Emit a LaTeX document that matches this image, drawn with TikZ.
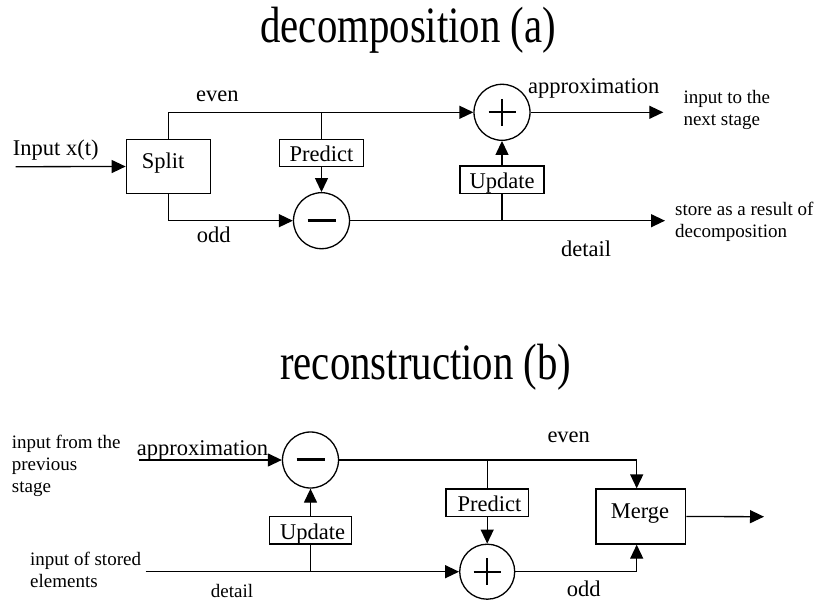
\documentclass[tikz,border=0pt]{standalone}
\usepackage{fontspec}
\setmainfont{Liberation Serif}
\newfontfamily\titlefont[FakeStretch=0.8]{Liberation Serif}
\usetikzlibrary{arrows.meta,calc}
\tikzset{
  ln/.style={line width=1.3pt},
  arr/.style={ln,-{Triangle[length=14pt,width=13pt]}},
  blk/.style={draw,line width=1.3pt,rectangle,inner sep=0pt},
  opc/.style={draw,line width=1.3pt,circle,minimum size=56pt,inner sep=0pt},
  lbl/.style={inner sep=0pt,font=\fontsize{22.5pt}{25pt}\selectfont},
  sml/.style={inner sep=0pt,font=\fontsize{19pt}{22pt}\selectfont,align=left},
  ttl/.style={inner sep=0pt,font=\titlefont\fontsize{51pt}{55pt}\selectfont},
}
\begin{document}
\begin{tikzpicture}[x=1pt,y=-1pt]
\useasboundingbox (0,0) rectangle (815,602);
% ---------- titles
\node[ttl,anchor=base] (t1) at (408.3,42.3) {decomposition (a)};
\node[ttl,anchor=base] (t2) at (425.8,379.3) {reconstruction (b)};
% ---------- decomposition
\coordinate (inA) at (15.7,166.7);
\node[blk,minimum width=84pt,minimum height=54pt] (split) at (168.3,166.5) {};
\node[lbl,anchor=base west] (splitt) at (141.7,168.3) {Split};
\node[opc] (plusA) at (502,112.3) {};
\node[opc] (minusA) at (321.5,220.7) {};
\node[blk,minimum width=83.4pt,minimum height=27.4pt] (predA) at (321.5,153) {};
\node[lbl,anchor=base] (predAt) at (321.5,161.7) {Predict};
\node[blk,minimum width=84pt,minimum height=27.3pt] (updA) at (502,179.7) {};
\node[lbl,anchor=base] (updAt) at (502,188.3) {Update};
\coordinate (outA) at (663.3,112.3);
\coordinate (outD) at (665,220.7);
% signs
\draw[line width=2pt] ($(plusA)+(-13.5,0)$) -- ($(plusA)+(13.5,0)$);
\draw[line width=2pt] ($(plusA)+(0,-13.5)$) -- ($(plusA)+(0,13.5)$);
\draw[line width=3pt] ($(minusA)+(-14,-0.5)$) -- ($(minusA)+(14,-0.5)$);
% connectors
\draw[arr] (inA) -- (split.west);
\draw[arr] (split.north) |- (plusA.west);
\draw[arr] (split.south) |- (minusA.west);
\draw[ln] (predA.north) -- (predA.north |- plusA.west);
\draw[arr] (predA.south) -- (minusA.north);
\draw[arr] (minusA.east) -- (outD);
\draw[ln] (updA.south) -- (updA.south |- minusA.east);
\draw[arr] (updA.north) -- (plusA.south);
\draw[arr] (plusA.east) -- (outA);
% labels
\node[lbl,anchor=base west] (inAt) at (12.7,156) {Input x(t)};
\node[lbl,anchor=base west] (evenA) at (196,101.7) {even};
\node[lbl,anchor=base west] (oddA) at (196.7,242.7) {odd};
\node[lbl,anchor=base west] (apxA) at (528,93.3) {approximation};
\node[lbl,anchor=base west] (detA) at (561,256.7) {detail};
\node[sml,anchor=base west] (nextA) at (683.3,125.3) {input to the\\next stage};
\node[sml,anchor=base west] (storeA) at (675,237) {store as a result of\\decomposition};
% ---------- reconstruction
\coordinate (inB1) at (139.3,460);
\coordinate (inB2) at (145.7,571.7);
\coordinate (outB) at (764,516.7);
\node[opc] (minusB) at (310.5,460) {};
\node[opc,minimum size=55pt] (plusB) at (487.2,571.7) {};
\node[blk,minimum width=81.7pt,minimum height=27.3pt] (updB) at (310.5,530.35) {};
\node[lbl,anchor=base] (updBt) at (312.5,539.3) {Update};
\node[blk,minimum width=82.3pt,minimum height=27.7pt] (predB) at (487.2,502.85) {};
\node[lbl,anchor=base] (predBt) at (489.5,511.7) {Predict};
\node[blk,minimum width=89.7pt,minimum height=55pt] (merge) at (640.85,516.5) {};
\node[lbl,anchor=base] (merget) at (640,518.3) {Merge};
% signs
\draw[line width=3pt] ($(minusB)+(-14,-0.5)$) -- ($(minusB)+(14,-0.5)$);
\draw[line width=2pt] ($(plusB)+(-13.5,0)$) -- ($(plusB)+(13.5,0)$);
\draw[line width=2pt] ($(plusB)+(0,-13.5)$) -- ($(plusB)+(0,13.5)$);
% connectors
\draw[arr] (inB1) -- (minusB.west);
\draw[arr] (minusB.east) -| ([xshift=-4.15pt]merge.north);
\draw[ln] (predB.north) -- (predB.north |- minusB.east);
\draw[arr] (predB.south) -- (plusB.north);
\draw[arr] (inB2) -- (plusB.west);
\draw[ln] (updB.south) -- (updB.south |- plusB.west);
\draw[arr] (updB.north) -- (minusB.south);
\draw[arr] (plusB.east) -| ([xshift=-4.15pt]merge.south);
\draw[arr] (merge.east) -- (outB);
% labels
\node[sml,anchor=base west] (prevB) at (11.7,492.7) {input from the\\previous\\stage};
\node[lbl,anchor=base west] (apxB) at (136.7,455) {approximation};
\node[sml,anchor=base west] (storedB) at (30,587) {input of stored\\elements};
\node[sml,anchor=base west] (detB) at (210.7,597.3) {detail};
\node[lbl,anchor=base west] (evenB) at (547.3,442.7) {even};
\node[lbl,anchor=base west] (oddB) at (566.7,596) {odd};
\end{tikzpicture}
\end{document}
